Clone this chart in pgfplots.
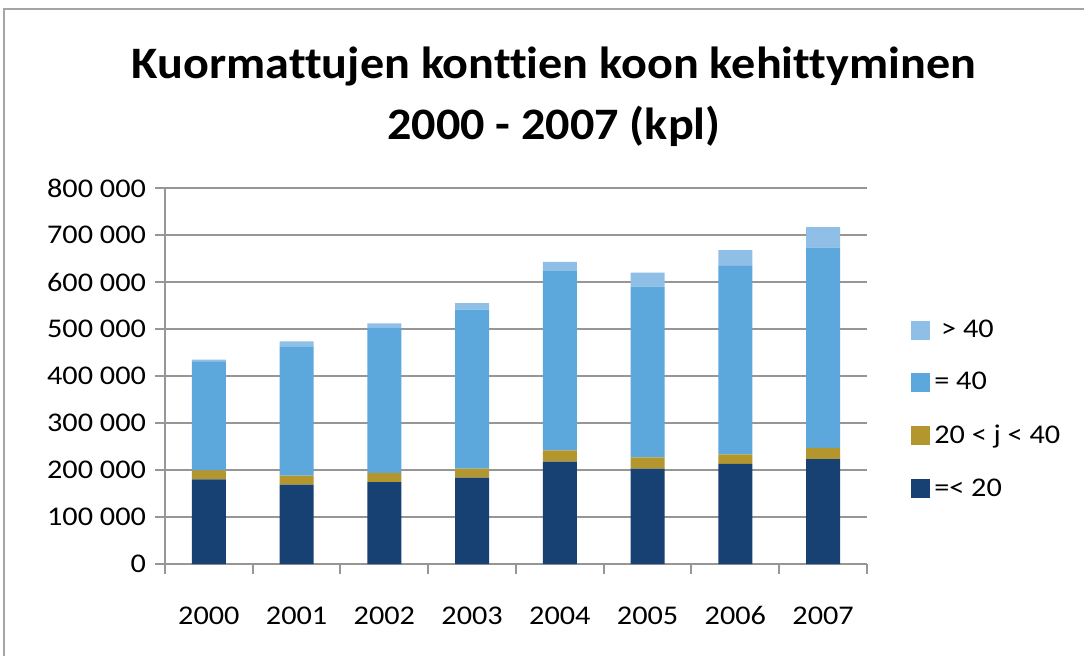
\documentclass[border=0pt]{standalone}
\usepackage{fontspec}
\setmainfont{Carlito}[FakeStretch=1.12, Ligatures=NoCommon]
\newfontfamily\titlefont{Carlito}[FakeStretch=1.07, Ligatures=NoCommon]
\usepackage{pgfplots}
\pgfplotsset{compat=1.18}
\definecolor{cDark}{RGB}{23,64,115}
\definecolor{cGold}{RGB}{179,151,46}
\definecolor{cBlue}{RGB}{92,168,220}
\definecolor{cLight}{RGB}{143,190,230}
\definecolor{cGrid}{RGB}{150,150,150}
\definecolor{cFrame}{RGB}{165,165,165}
\begin{document}
\begin{tikzpicture}
\useasboundingbox (0,0) rectangle (542pt,327.5pt);
\draw[cFrame, line width=1pt] (2pt,-2pt) -- (2pt,323pt) -- (545pt,323pt);
\node[font=\titlefont\fontsize{22.5}{26}\selectfont\bfseries] at (277pt,294pt) {Kuormattujen konttien koon kehittyminen};
\node[font=\titlefont\fontsize{22.5}{26}\selectfont\bfseries] at (277pt,264.5pt) {2000 - 2007 (kpl)};
\begin{axis}[
  at={(82.5pt,45.5pt)}, anchor=south west,
  scale only axis, width=351pt, height=188pt,
  ybar stacked, bar width=17pt,
  xmin=-0.5, xmax=7.5, ymin=0, ymax=800000,
  xtick={0,...,7},
  xticklabels={2000,2001,2002,2003,2004,2005,2006,2007},
  minor xtick={-0.5,0.5,...,7.5},
  ytick={0,100000,200000,300000,400000,500000,600000,700000,800000},
  yticklabels={0,100 000,200 000,300 000,400 000,500 000,600 000,700 000,800 000},
  scaled y ticks=false,
  axis x line*=bottom, axis y line*=left,
  axis line style={cGrid, line width=1pt},
  tick align=outside,
  major tick length=5pt, minor tick length=5pt,
  every tick/.style={cGrid, line width=1pt},
  x tick style={draw=none},
  minor x tick style={draw=cGrid, line width=1pt},
  ymajorgrids, grid style={cGrid, line width=1pt},
  tick label style={font=\fontsize{13.5}{16}\selectfont, text=black},
  xticklabel style={yshift=-12.5pt, text height=9pt, text depth=0pt},
  yticklabel style={xshift=-1pt},
  legend style={at={(1.054,0.411)}, anchor=west, draw=none, fill=none,
    font=\fontsize{13.5}{16}\selectfont, row sep=12pt,
    /tikz/every even column/.append style={column sep=5pt}},
  legend cell align=left,
  reverse legend,
  legend image code/.code={\fill[#1,draw=none] (0pt,-4.75pt) rectangle (9.5pt,4.75pt);},
]
\addplot+[fill=cDark, draw=none] coordinates {(0,180000) (1,169000) (2,174000) (3,184000) (4,218000) (5,203000) (6,213000) (7,223000)};
\addplot+[fill=cGold, draw=none] coordinates {(0,19000) (1,19000) (2,20000) (3,19000) (4,24000) (5,24000) (6,20500) (7,24000)};
\addplot+[fill=cBlue, draw=none] coordinates {(0,231000) (1,275000) (2,308000) (3,338000) (4,381000) (5,363000) (6,401000) (7,426000)};
\addplot+[fill=cLight, draw=none] coordinates {(0,5000) (1,10500) (2,10000) (3,14000) (4,20000) (5,30000) (6,33500) (7,44000)};
\legend{{=< 20}, {20 < j < 40}, {= 40}, {\ > 40}}
\end{axis}
\end{tikzpicture}
\end{document}
